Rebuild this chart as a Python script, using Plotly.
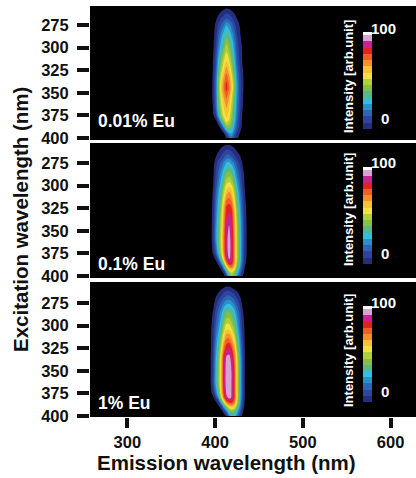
import plotly.graph_objects as go

emission = [390, 395, 398, 401, 404, 407, 410, 413, 416, 419, 422, 425, 428, 431, 434, 437, 440]

exc_001 = [255, 258, 262, 268, 275, 285, 295, 305, 315, 325, 335, 345, 355, 365, 375, 380, 385, 390, 395, 400]
eu_001 = [
    [0, 0, 0, 0, 0, 0, 0, 0, 0, 0, 0, 0, 0, 0, 0, 0, 0],
    [0, 0, 0, 0, 0, 1, 3, 5, 4, 2, 0, 0, 0, 0, 0, 0, 0],
    [0, 0, 0, 0, 2, 5, 7, 9, 8, 6, 3, 1, 0, 0, 0, 0, 0],
    [0, 0, 0, 2, 6, 10, 13, 16, 14, 11, 7, 3, 1, 0, 0, 0, 0],
    [0, 0, 0, 5, 11, 16, 21, 27, 24, 18, 12, 6, 3, 1, 0, 0, 0],
    [0, 0, 1, 7, 16, 24, 31, 37, 33, 26, 18, 9, 4, 1, 0, 0, 0],
    [0, 0, 2, 9, 20, 30, 38, 46, 41, 33, 23, 12, 6, 2, 0, 0, 0],
    [0, 0, 3, 11, 25, 36, 45, 53, 47, 38, 27, 14, 7, 3, 0, 0, 0],
    [0, 0, 4, 14, 31, 44, 53, 60, 54, 44, 31, 17, 9, 3, 0, 0, 0],
    [0, 0, 4, 16, 36, 50, 60, 69, 62, 50, 36, 21, 11, 4, 1, 0, 0],
    [0, 0, 5, 19, 42, 57, 68, 77, 69, 57, 42, 24, 13, 5, 1, 0, 0],
    [0, 0, 5, 20, 44, 60, 72, 81, 73, 60, 44, 26, 14, 5, 1, 0, 0],
    [0, 0, 5, 19, 42, 56, 66, 73, 66, 54, 40, 24, 13, 4, 1, 0, 0],
    [0, 0, 4, 18, 39, 52, 60, 67, 61, 50, 37, 22, 12, 4, 0, 0, 0],
    [0, 0, 3, 10, 30, 46, 55, 61, 56, 46, 34, 20, 10, 3, 0, 0, 0],
    [0, 0, 0, 3, 16, 36, 50, 58, 53, 44, 32, 18, 9, 2, 0, 0, 0],
    [0, 0, 0, 0, 4, 18, 36, 50, 48, 40, 28, 16, 8, 2, 0, 0, 0],
    [0, 0, 0, 0, 0, 4, 18, 34, 40, 36, 24, 13, 6, 1, 0, 0, 0],
    [0, 0, 0, 0, 0, 0, 2, 14, 26, 28, 18, 9, 3, 0, 0, 0, 0],
    [0, 0, 0, 0, 0, 0, 0, 4, 14, 18, 12, 5, 1, 0, 0, 0, 0],
]

exc_01 = [255, 258, 262, 268, 275, 285, 295, 305, 315, 325, 335, 345, 360, 375, 380, 385, 390, 395, 400]
eu_01 = [
    [0, 0, 0, 0, 0, 0, 2, 4, 4, 2, 0, 0, 0, 0, 0, 0, 0],
    [0, 0, 0, 0, 1, 3, 5, 7, 7, 5, 3, 1, 0, 0, 0, 0, 0],
    [0, 0, 0, 1, 3, 6, 9, 11, 11, 9, 6, 3, 1, 0, 0, 0, 0],
    [0, 0, 0, 3, 7, 10, 14, 18, 18, 15, 11, 7, 4, 1, 0, 0, 0],
    [0, 0, 1, 7, 12, 17, 23, 29, 30, 26, 20, 13, 8, 3, 0, 0, 0],
    [0, 0, 2, 10, 17, 24, 32, 40, 42, 38, 30, 20, 13, 6, 1, 0, 0],
    [0, 0, 3, 12, 21, 30, 40, 50, 52, 48, 38, 26, 17, 8, 2, 0, 0],
    [0, 0, 4, 15, 26, 36, 49, 60, 64, 60, 48, 33, 22, 11, 3, 0, 0],
    [0, 0, 5, 18, 30, 42, 57, 71, 74, 69, 55, 38, 26, 14, 4, 0, 0],
    [0, 0, 6, 20, 33, 47, 65, 80, 82, 78, 62, 43, 30, 16, 5, 1, 0],
    [0, 0, 7, 22, 36, 50, 68, 84, 87, 83, 66, 47, 33, 18, 6, 1, 0],
    [0, 0, 8, 24, 38, 52, 70, 88, 91, 86, 68, 49, 35, 19, 7, 1, 0],
    [0, 0, 8, 25, 40, 54, 72, 89, 93, 88, 70, 50, 36, 20, 7, 1, 0],
    [0, 0, 4, 15, 32, 50, 70, 88, 93, 88, 70, 50, 36, 20, 7, 1, 0],
    [0, 0, 1, 6, 22, 42, 64, 84, 92, 88, 70, 50, 36, 20, 6, 1, 0],
    [0, 0, 0, 1, 8, 26, 50, 72, 86, 84, 68, 48, 34, 18, 5, 0, 0],
    [0, 0, 0, 0, 1, 8, 28, 52, 68, 72, 62, 42, 30, 14, 3, 0, 0],
    [0, 0, 0, 0, 0, 0, 8, 30, 50, 56, 48, 34, 22, 9, 1, 0, 0],
    [0, 0, 0, 0, 0, 0, 0, 12, 34, 44, 38, 26, 14, 4, 0, 0, 0],
]

exc_1 = [255, 258, 262, 268, 275, 285, 295, 305, 315, 325, 335, 350, 365, 375, 380, 385, 390, 395, 400]
eu_1 = [
    [0, 0, 0, 0, 0, 0, 0, 0, 0, 0, 0, 0, 0, 0, 0, 0, 0],
    [0, 0, 0, 0, 0, 1, 3, 5, 5, 3, 1, 0, 0, 0, 0, 0, 0],
    [0, 0, 0, 0, 2, 5, 8, 10, 10, 8, 6, 3, 0, 0, 0, 0, 0],
    [0, 0, 0, 3, 7, 10, 14, 17, 17, 15, 12, 8, 4, 0, 0, 0, 0],
    [0, 0, 1, 7, 12, 17, 22, 26, 27, 24, 20, 14, 8, 2, 0, 0, 0],
    [0, 0, 4, 12, 18, 25, 34, 40, 41, 37, 31, 22, 14, 5, 0, 0, 0],
    [0, 1, 6, 15, 22, 31, 42, 50, 50, 45, 38, 27, 17, 7, 1, 0, 0],
    [0, 2, 8, 18, 27, 38, 51, 60, 60, 54, 46, 33, 21, 9, 2, 0, 0],
    [0, 2, 9, 22, 33, 46, 62, 72, 73, 66, 56, 40, 26, 11, 2, 0, 0],
    [0, 2, 10, 25, 38, 53, 72, 83, 85, 78, 66, 47, 30, 13, 3, 0, 0],
    [0, 3, 11, 28, 43, 60, 82, 92, 93, 87, 74, 54, 34, 15, 3, 0, 0],
    [0, 3, 12, 30, 45, 62, 84, 94, 96, 90, 78, 56, 36, 16, 3, 0, 0],
    [0, 3, 12, 30, 45, 62, 84, 94, 96, 90, 78, 56, 36, 16, 3, 0, 0],
    [0, 1, 6, 20, 38, 58, 80, 92, 95, 90, 78, 56, 36, 16, 3, 0, 0],
    [0, 0, 2, 8, 26, 50, 72, 88, 92, 90, 78, 56, 34, 15, 3, 0, 0],
    [0, 0, 0, 2, 8, 28, 52, 70, 78, 80, 72, 52, 32, 13, 2, 0, 0],
    [0, 0, 0, 0, 1, 8, 26, 44, 58, 62, 58, 42, 26, 10, 1, 0, 0],
    [0, 0, 0, 0, 0, 0, 6, 20, 38, 44, 42, 30, 18, 5, 0, 0, 0],
    [0, 0, 0, 0, 0, 0, 0, 4, 22, 32, 32, 24, 12, 2, 0, 0, 0],
]

panel_labels = ["0.01% Eu", "0.1% Eu", "1% Eu"]
panels = [eu_001, eu_01, eu_1]
excitations = [exc_001, exc_01, exc_1]
y_ticks = [275, 300, 325, 350, 375, 400]
x_ticks = [300, 400, 500, 600]
band_colors = ["#000000", "#262f7d", "#2b45a0", "#2a67b4", "#2a8fcb", "#33bde0", "#55b98c",
               "#84c142", "#b1cf3d", "#f2e23f", "#f8c232", "#f58f2e", "#ef5f22", "#e71f22",
               "#c9218f", "#d8a2d2", "#ffffff"]

W, H = 416, 478
tops = [6, 143, 282]
bots = [140, 278, 417]
tick400 = [138, 276, 416]
cb_tops = [32, 167, 306]
cb_bots = [116, 251, 389]
title_mid = [77, 210, 351]
label_mid = [121, 264, 403]
n = len(band_colors)
step = 100 / (n - 1)
scale = []
for i, c in enumerate(band_colors):
    lo = max(0, (i - 0.5) * step) / 100
    hi = min(100, (i + 0.5) * step) / 100
    scale += [[lo, c], [hi, c]]

fig = go.Figure()
layout = dict(width=W, height=H, margin=dict(l=0, r=0, t=0, b=0, autoexpand=False), paper_bgcolor="white",
              plot_bgcolor="black", showlegend=False,
              font=dict(family="Liberation Sans", size=15, color="#111111"))
ann = []
PX = 0.904
for i, z in enumerate(panels):
    s = "" if i == 0 else str(i + 1)
    cb_h = (cb_bots[i] - cb_tops[i]) * 1.19
    fig.add_trace(go.Contour(
        x=emission, y=excitations[i], z=z, xaxis="x" + s, yaxis="y" + s,
        zmin=0, zmax=100, colorscale=scale, autocontour=False,
        contours=dict(start=step / 2, end=100 - step / 2, size=step, coloring="fill", showlines=False),
        line=dict(width=0, smoothing=1.0), hoverinfo="skip",
        colorbar=dict(xref="paper", yref="paper", x=363 / W, xanchor="left", thickness=9,
                      thicknessmode="pixels", len=cb_h, lenmode="pixels", xpad=0, ypad=0,
                      y=1 - cb_tops[i] / H, yanchor="top", outlinewidth=0, borderwidth=0,
                      tickmode="array", tickvals=[], ticks="", showticklabels=False,
                      bgcolor="rgba(0,0,0,0)"),
    ))
    layout["xaxis" + s] = dict(domain=[90 / W, 1], range=[257.5, 629], anchor="y" + s,
                               showgrid=False, zeroline=False, showline=False,
                               tickmode="array", tickvals=x_ticks if i == 2 else [],
                               ticks="outside" if i == 2 else "", ticklen=10, tickwidth=3.5, tickcolor="#111111",
                               tickfont=dict(size=16.5, weight="bold"), showticklabels=i == 2)
    layout["yaxis" + s] = dict(domain=[1 - bots[i] / H, 1 - tops[i] / H], anchor="x" + s,
                               range=[400 + (bots[i] - tick400[i]) / PX, 400 - (tick400[i] - tops[i]) / PX],
                               showgrid=False, zeroline=False, showline=False,
                               tickmode="array", tickvals=y_ticks, ticks="outside", ticklen=12,
                               tickwidth=3.5, tickcolor="#111111", tickfont=dict(size=16.5, weight="bold"),
                               ticklabelstandoff=5)
    ann.append(dict(text=f"<b>{panel_labels[i]}</b>", xref="paper", yref="paper", x=96 / W, xanchor="left",
                    y=1 - label_mid[i] / H, yanchor="middle", showarrow=False,
                    font=dict(size=17.5, color="white")))
    ann.append(dict(text="<b>Intensity [arb.unit]</b>", xref="paper", yref="paper", x=348 / W, xanchor="center",
                    y=1 - title_mid[i] / H, yanchor="middle", textangle=-90, showarrow=False,
                    font=dict(size=13, color="white")))
    ann.append(dict(text="<b>100</b>", xref="paper", yref="paper", x=398 / W, xanchor="right",
                    y=1 - (cb_tops[i] - 4) / H, yanchor="middle", showarrow=False,
                    font=dict(size=15, color="white")))
    ann.append(dict(text="<b>0</b>", xref="paper", yref="paper", x=391 / W, xanchor="right",
                    y=1 - (cb_bots[i] + 2) / H, yanchor="middle", showarrow=False,
                    font=dict(size=15, color="white")))
ann.append(dict(text="<b>Excitation wavelength (nm)</b>", xref="paper", yref="paper", x=20 / W, xanchor="center",
                y=1 - 220 / H, yanchor="middle", textangle=-90, showarrow=False,
                font=dict(size=20.5, color="#111111")))
ann.append(dict(text="<b>Emission wavelength (nm)</b>", xref="paper", yref="paper", x=226.5 / W, xanchor="center",
                y=1 - 462 / H, yanchor="middle", showarrow=False, font=dict(size=20.5, color="#111111")))
layout["annotations"] = ann
fig.update_layout(**layout)
fig.write_html("out.html", post_script="document.body.style.margin='0';", config={"displayModeBar": False})
